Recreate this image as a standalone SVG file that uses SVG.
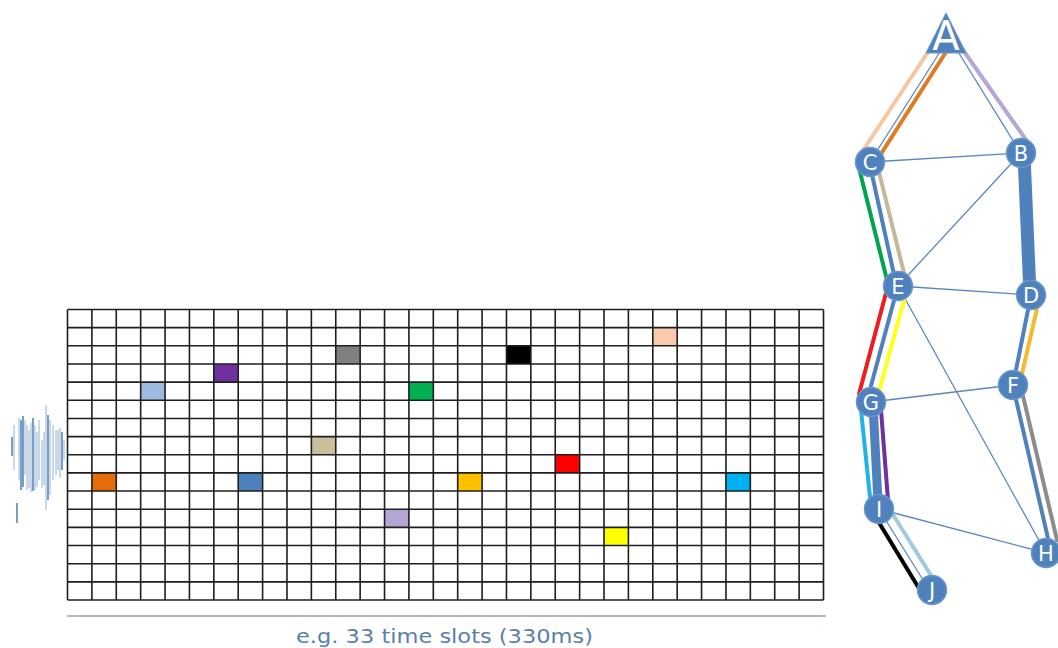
<svg xmlns="http://www.w3.org/2000/svg" width="1058" height="648" viewBox="0 0 1058 648">
<style>
.grid{stroke:#1e1e1e;stroke-width:1.6;fill:none}
.thin{stroke:#5a86bd;stroke-width:1.3;fill:none}
.med{stroke:#4f81bd;stroke-width:4;fill:none;stroke-linecap:round}
.col{stroke-width:4;fill:none;stroke-linecap:round}
.node{fill:#4f81bd;stroke:#6a96cc;stroke-width:1.5}
.lbl{font-family:"DejaVu Sans","Liberation Sans",sans-serif;font-size:21px;fill:#ffffff;text-anchor:middle}
.wave{stroke:#4f7fb5;fill:none}
</style>
<rect width="1058" height="648" fill="#ffffff"/>

<g id="waveform">
<path class="wave" stroke-width="1.5" d="M12 437V456M17 503V523M21 420V490M23 416V487M33 418V491M48 415V500M62 432V470"/>
<path class="wave" stroke-width="1" opacity="0.6" d="M14 425V470M19 418V480M25 420V475M27 425V490M29 430V488M31 423V492M35 425V490M37 432V487M39 420V480M42 440V488M44 432V485M46 405V510M50 420V495M53 425V480M56 430V475M58 430V470M60 428V478M64 440V460"/>
</g>

<g id="grid">
<g id="cells">
<rect x="91.89" y="472.9" width="24.39" height="18.16" fill="#e46c0a"/>
<rect x="140.66" y="382.12" width="24.39" height="18.16" fill="#9dbbe0"/>
<rect x="213.82" y="363.97" width="24.39" height="18.16" fill="#7030a0"/>
<rect x="238.21" y="472.9" width="24.39" height="18.16" fill="#4f81bd"/>
<rect x="311.37" y="436.59" width="24.39" height="18.16" fill="#c9bf9a"/>
<rect x="335.76" y="345.81" width="24.39" height="18.16" fill="#808080"/>
<rect x="384.53" y="509.22" width="24.39" height="18.16" fill="#b5a5d2"/>
<rect x="408.92" y="382.12" width="24.39" height="18.16" fill="#00b050"/>
<rect x="457.69" y="472.9" width="24.39" height="18.16" fill="#ffc000"/>
<rect x="506.47" y="345.81" width="24.39" height="18.16" fill="#000000"/>
<rect x="555.24" y="454.75" width="24.39" height="18.16" fill="#ff0000"/>
<rect x="604.01" y="527.37" width="24.39" height="18.16" fill="#ffff00"/>
<rect x="652.79" y="327.66" width="24.39" height="18.16" fill="#f8cbad"/>
<rect x="725.95" y="472.9" width="24.39" height="18.16" fill="#00b0f0"/>
</g>
<path class="grid" d="M67.5 309.5V600M91.89 309.5V600M116.27 309.5V600M140.66 309.5V600M165.05 309.5V600M189.44 309.5V600M213.82 309.5V600M238.21 309.5V600M262.6 309.5V600M286.98 309.5V600M311.37 309.5V600M335.76 309.5V600M360.14 309.5V600M384.53 309.5V600M408.92 309.5V600M433.31 309.5V600M457.69 309.5V600M482.08 309.5V600M506.47 309.5V600M530.85 309.5V600M555.24 309.5V600M579.63 309.5V600M604.01 309.5V600M628.4 309.5V600M652.79 309.5V600M677.18 309.5V600M701.56 309.5V600M725.95 309.5V600M750.34 309.5V600M774.72 309.5V600M799.11 309.5V600M823.5 309.5V600"/>
<path class="grid" d="M67.5 309.5H823.5M67.5 327.66H823.5M67.5 345.81H823.5M67.5 363.97H823.5M67.5 382.12H823.5M67.5 400.28H823.5M67.5 418.44H823.5M67.5 436.59H823.5M67.5 454.75H823.5M67.5 472.9H823.5M67.5 491.06H823.5M67.5 509.22H823.5M67.5 527.37H823.5M67.5 545.53H823.5M67.5 563.68H823.5M67.5 581.84H823.5M67.5 600H823.5"/>
</g>

<g id="axis">
<line x1="67" y1="616" x2="826" y2="616" stroke="#8ca6c6" stroke-width="1.5"/>
<text x="296" y="643" font-family="DejaVu Sans, Liberation Sans, sans-serif" font-size="20" fill="#5a7fab" textLength="297" lengthAdjust="spacingAndGlyphs">e.g. 33 time slots (330ms)</text>
</g>

<g id="connectors">
<!-- A-C -->
<line class="col" x1="928" y1="52" x2="860" y2="155" stroke="#f4c7a4"/>
<line class="thin" x1="940" y1="52" x2="873" y2="157"/>
<line class="col" x1="946" y1="52" x2="879" y2="157" stroke="#e07b20"/>
<!-- A-B -->
<line class="thin" x1="957" y1="50" x2="1020" y2="152"/>
<line class="col" x1="963" y1="50" x2="1031" y2="147" stroke="#b4a7d6"/>
<!-- C-B, B-E, E-D, E-H, G-F, I-H -->
<line class="thin" x1="870" y1="162" x2="1021" y2="153"/>
<line class="thin" x1="1021" y1="153" x2="898" y2="286"/>
<line class="thin" x1="898" y1="286" x2="1031" y2="295"/>
<line class="thin" x1="898" y1="286" x2="1046" y2="553"/>
<line class="thin" x1="871" y1="402" x2="1013" y2="385"/>
<line class="thin" x1="879" y1="509" x2="1046" y2="553"/>
<!-- B-D thick -->
<line x1="1024" y1="155" x2="1030" y2="294" stroke="#4f81bd" stroke-width="13"/>
<!-- C-E -->
<line class="col" x1="859" y1="168" x2="887" y2="280" stroke="#00a550" stroke-width="3.5"/>
<line class="med" x1="871" y1="170" x2="895" y2="279"/>
<line class="col" x1="879" y1="172" x2="905" y2="277" stroke="#c4b89a"/>
<!-- E-G -->
<line class="col" x1="886" y1="293" x2="859" y2="394" stroke="#ee1c1c"/>
<line class="med" x1="896" y1="293" x2="868" y2="397"/>
<line class="col" x1="906" y1="293" x2="878" y2="395" stroke="#ffff1a"/>
<!-- D-F -->
<line class="med" x1="1031" y1="295" x2="1013" y2="385"/>
<line class="col" x1="1039" y1="300" x2="1021" y2="378" stroke="#f5b92e"/>
<!-- F-H -->
<line class="med" x1="1015" y1="395" x2="1050" y2="547"/>
<line class="col" x1="1023" y1="396" x2="1057" y2="540" stroke="#8c8c8c"/>
<!-- G-I -->
<line x1="873" y1="405" x2="878" y2="502" stroke="#4f81bd" stroke-width="9"/>
<line class="col" x1="861" y1="410" x2="870" y2="497" stroke="#1fb4e6" stroke-width="3.5"/>
<line class="col" x1="881" y1="410" x2="888" y2="500" stroke="#7030a0" stroke-width="3.5"/>
<!-- I-J -->
<line class="col" x1="878" y1="521" x2="920" y2="590" stroke="#000000"/>
<line class="thin" x1="885" y1="519" x2="925" y2="583"/>
<line class="col" x1="892" y1="513" x2="932" y2="577" stroke="#9fcbdc"/>
</g>

<g id="node-A">
<polygon points="946,13 926,53 966,53" fill="#4f81bd" stroke="#6a96cc" stroke-width="1"/>
<text x="946" y="50" font-family="DejaVu Sans, Liberation Sans, sans-serif" font-size="40" fill="#ffffff" text-anchor="middle">A</text>
</g>
<g id="node-B"><circle class="node" cx="1021" cy="153" r="14.5"/><text class="lbl" x="1021" y="161">B</text></g>
<g id="node-C"><circle class="node" cx="870" cy="162" r="14.5"/><text class="lbl" x="870" y="170">C</text></g>
<g id="node-E"><circle class="node" cx="898" cy="286" r="14.5"/><text class="lbl" x="898" y="294">E</text></g>
<g id="node-D"><circle class="node" cx="1031" cy="295" r="14.5"/><text class="lbl" x="1031" y="303">D</text></g>
<g id="node-F"><circle class="node" cx="1013" cy="385" r="14.5"/><text class="lbl" x="1013" y="393">F</text></g>
<g id="node-G"><circle class="node" cx="871" cy="402" r="14.5"/><text class="lbl" x="871" y="410">G</text></g>
<g id="node-I"><circle class="node" cx="879" cy="509" r="14.5"/><text class="lbl" x="879" y="517">I</text></g>
<g id="node-H"><circle class="node" cx="1046" cy="553" r="14.5"/><text class="lbl" x="1046" y="561">H</text></g>
<g id="node-J"><circle class="node" cx="932" cy="590" r="14.5"/><text class="lbl" x="932" y="598">J</text></g>
</svg>
